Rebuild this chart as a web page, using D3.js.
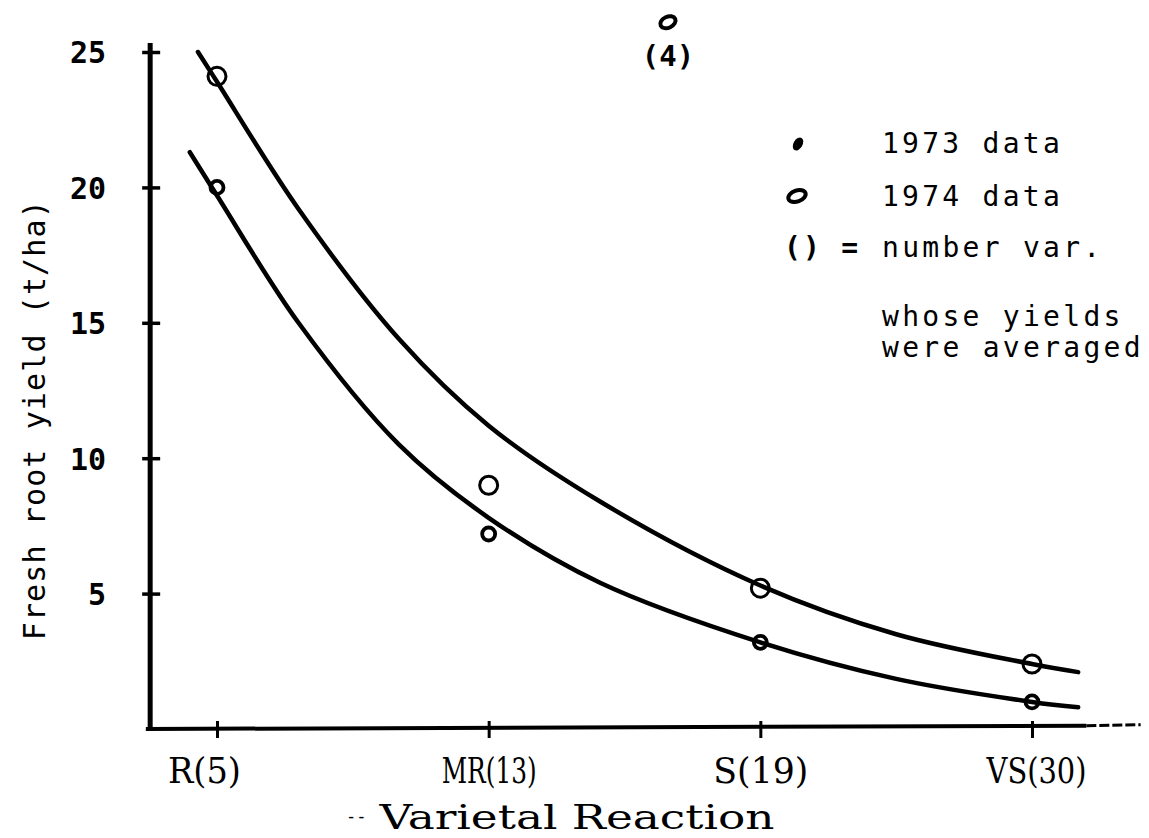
<!DOCTYPE html>
<html>
<head>
<meta charset="utf-8">
<script src="https://cdn.jsdelivr.net/npm/d3@7"></script>
<style>
  html, body { margin: 0; padding: 0; background: #fff; }
  svg { display: block; }
</style>
</head>
<body>
<svg id="chart" width="1149" height="838"></svg>
<script>
// ---- data ----
const categories = ["R(5)", "MR(13)", "S(19)", "VS(30)"];
const yTicks = [5, 10, 15, 20, 25];
const yield1973 = [20.0, 7.2, 3.2, 1.0];
const yield1974 = [24.1, 9.0, 5.2, 2.4];
// single 1974 point plotted above the frame, with its variety count
const outlierPos = [1.66];
const outlierValue = [26.1];
const outlierLabel = ["(4)"];
// fitted curves as drawn: [category position, yield]
const curve1974 = [[-0.07,25.0],[0,23.9],[0.3,19.2],[0.67,14.4],[1.0,11.2],[1.41,8.4],[2.0,5.3],[2.5,3.5],[3.0,2.4],[3.17,2.1]];
const curve1973 = [[-0.1,21.3],[0,19.7],[0.3,15.0],[0.67,10.5],[1.0,7.8],[1.41,5.4],[2.0,3.2],[2.5,1.85],[3.0,1.0],[3.17,0.8]];
const legendLines = ["1973 data", "1974 data", "number var.", "whose yields", "were averaged"];

// ---- scales ----
const svg = d3.select("#chart");
svg.append("rect").attr("width", 1149).attr("height", 838).attr("fill", "#fff");

const x = d3.scaleLinear().domain([0, 3]).range([217, 1032]);
const y = d3.scaleLinear().domain([0, 25]).range([729, 52]);

const mono = "'DejaVu Sans Mono', 'Liberation Mono', monospace";
const serifC = "'DejaVu Serif Condensed', 'DejaVu Serif', serif";

// ---- axes ----
const axisY = d3.axisLeft(y).tickValues(yTicks).tickSizeInner(9).tickSizeOuter(0).tickPadding(0);
const gy = svg.append("g").attr("transform", `translate(${x(-0.246)},0)`).call(axisY);
gy.select(".domain").remove();
gy.selectAll(".tick line").attr("x1", 10).attr("x2", -8).attr("stroke", "#000").attr("stroke-width", 3.5);
gy.selectAll(".tick text")
  .attr("x", -44).attr("dy", "0.36em")
  .style("font-family", mono).style("font-size", "30px").style("font-weight", "bold").attr("fill", "#000");

const axisX = d3.axisBottom(x).tickValues([0, 1, 2, 3]).tickFormat(i => categories[i]).tickSizeInner(9).tickSizeOuter(0).tickPadding(0);
const gx = svg.append("g").attr("transform", `translate(0,${y(0)})`).call(axisX);
gx.select(".domain").remove();
gx.selectAll(".tick line").attr("y1", -8).attr("y2", 9).attr("stroke", "#000").attr("stroke-width", 3);
gx.selectAll(".tick text")
  .attr("y", 54).attr("dy", 0)
  .style("font-family", serifC).style("font-size", "36px").attr("fill", "#000")
  .attr("textLength", i => [73, 95, 95, 100][i]).attr("lengthAdjust", "spacingAndGlyphs")
  .attr("dx", i => [-13, 0, 0, 4][i]);

// axis lines
svg.append("line")
  .attr("x1", x(-0.246)).attr("x2", x(-0.246)).attr("y1", y(25.33)).attr("y2", y(0) + 2)
  .attr("stroke", "#000").attr("stroke-width", 5);
svg.append("line")
  .attr("x1", x(-0.262)).attr("x2", x(3.2)).attr("y1", y(0)).attr("y2", y(0.12))
  .attr("stroke", "#000").attr("stroke-width", 4);
svg.append("line")
  .attr("x1", x(3.2)).attr("x2", x(3.4)).attr("y1", y(0.12)).attr("y2", y(0.16))
  .attr("stroke", "#000").attr("stroke-width", 3).attr("stroke-dasharray", "10,3");

// axis titles
svg.append("text")
  .attr("transform", `translate(45,${y(11.4)}) rotate(-90)`)
  .attr("text-anchor", "middle")
  .style("font-family", mono).style("font-size", "30px")
  .attr("textLength", 440).attr("lengthAdjust", "spacing")
  .text("Fresh root yield (t/ha)");

svg.append("text")
  .attr("x", 577).attr("y", 829).attr("text-anchor", "middle")
  .style("font-family", serifC).style("font-size", "34px")
  .attr("textLength", 395).attr("lengthAdjust", "spacingAndGlyphs")
  .text("Varietal Reaction");
svg.append("text")
  .attr("x", 346).attr("y", 822)
  .style("font-family", mono).style("font-size", "17px")
  .text("--");

// ---- curves ----
const line = d3.line().x(d => x(d[0])).y(d => y(d[1])).curve(d3.curveCatmullRom.alpha(0.5));
svg.append("path").datum(curve1974).attr("d", line)
  .attr("fill", "none").attr("stroke", "#000").attr("stroke-width", 4.5).attr("stroke-linecap", "round");
svg.append("path").datum(curve1973).attr("d", line)
  .attr("fill", "none").attr("stroke", "#000").attr("stroke-width", 4.5).attr("stroke-linecap", "round");

// ---- points ----
svg.append("g").selectAll("circle").data(yield1974).join("circle")
  .attr("cx", (d, i) => x(i)).attr("cy", d => y(d)).attr("r", 9)
  .attr("fill", "none").attr("stroke", "#000").attr("stroke-width", 3);
svg.append("g").selectAll("circle").data(yield1973).join("circle")
  .attr("cx", (d, i) => x(i)).attr("cy", d => y(d)).attr("r", 6.5)
  .attr("fill", "none").attr("stroke", "#000").attr("stroke-width", 3.8);

// outlier point with label
const go = svg.append("g");
go.selectAll("ellipse").data(outlierValue).join("ellipse")
  .attr("transform", (d, i) => `translate(${x(outlierPos[i])},${y(d)}) rotate(-25)`)
  .attr("rx", 8).attr("ry", 5.5)
  .attr("fill", "none").attr("stroke", "#000").attr("stroke-width", 4);
go.selectAll("text").data(outlierValue).join("text")
  .attr("x", (d, i) => x(outlierPos[i])).attr("y", d => y(d) + 44)
  .attr("text-anchor", "middle")
  .style("font-family", mono).style("font-size", "29px").style("font-weight", "bold")
  .text((d, i) => outlierLabel[i]);

// ---- legend ----
const lg = svg.append("g");
const textX = 882;
const rowY = [153, 206, 257, 326, 357];
legendLines.forEach((t, i) => {
  lg.append("text")
    .attr("x", textX).attr("y", rowY[i])
    .style("font-family", mono).style("font-size", "28px")
    .attr("textLength", t.length * 20.2 - 4).attr("lengthAdjust", "spacing")
    .text(t);
});
lg.append("ellipse").attr("transform", "translate(798,144) rotate(30)")
  .attr("rx", 4.5).attr("ry", 7).attr("fill", "#000");
lg.append("ellipse").attr("transform", "translate(797,196) rotate(-20)")
  .attr("rx", 9).attr("ry", 5.5).attr("fill", "none").attr("stroke", "#000").attr("stroke-width", 4);
lg.append("text").attr("x", 784).attr("y", 257)
  .style("font-family", mono).style("font-size", "28px").style("font-weight", "bold")
  .attr("textLength", 74).attr("lengthAdjust", "spacing")
  .text("() =");
</script>
</body>
</html>
